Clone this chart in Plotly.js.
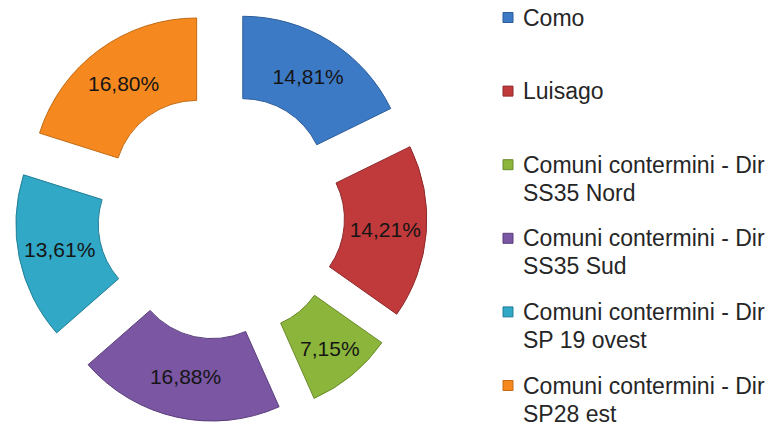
<!DOCTYPE html>
<html>
<head>
<meta charset="utf-8">
<script src="https://cdn.plot.ly/plotly-3.0.1.min.js"></script>
<style>html,body{margin:0;padding:0;background:#fff;}#chart{width:766px;height:427px;}</style>
</head>
<body>
<div id="chart"></div>
<script>
// Data
const categories = [
  'Como',
  'Luisago',
  'Comuni contermini - Dir SS35 Nord',
  'Comuni contermini - Dir SS35 Sud',
  'Comuni contermini - Dir SP 19 ovest',
  'Comuni contermini - Dir SP28 est'
];
const legendLines = [
  ['Como'],
  ['Luisago'],
  ['Comuni contermini - Dir', 'SS35 Nord'],
  ['Comuni contermini - Dir', 'SS35 Sud'],
  ['Comuni contermini - Dir', 'SP 19 ovest'],
  ['Comuni contermini - Dir', 'SP28 est']
];
const values = [14.81, 14.21, 7.15, 16.88, 13.61, 16.80];

// Styles
const colors = ['#3d7ac6', '#c0393b', '#8cb53c', '#7a56a3', '#31a8c6', '#f5891f'];
const edgeColors = ['#2c5d9a', '#8e2a2b', '#6a8a2c', '#5a3f7c', '#237f97', '#c26a14'];
const W = 766, H = 427;

const textLabels = values.map(v => v.toFixed(2).replace('.', ',') + '%');

const trace = {
  type: 'pie',
  values: values,
  labels: categories,
  text: textLabels,
  textinfo: 'text',
  textposition: 'inside',
  insidetextorientation: 'horizontal',
  hole: 0.5,
  pull: 0.25,
  sort: false,
  direction: 'clockwise',
  rotation: 0,
  marker: { colors: colors, line: { color: edgeColors, width: 1 } },
  insidetextfont: { family: 'Liberation Sans, Arial, sans-serif', size: 21, color: '#151515' },
  domain: { x: [0.0196, 0.5574], y: [0.0117, 0.9766] },
  showlegend: false,
  hoverinfo: 'label+text'
};

// Manual legend (matching the reference spacing)
const annotations = [];
const shapes = [];
const firstCenter = 17.5, step = 73.6, lineGap = 28;
legendLines.forEach((lines, i) => {
  const c = firstCenter + step * i;
  lines.forEach((ln, j) => {
    annotations.push({
      xref: 'paper', yref: 'paper',
      x: 521 / W, y: 1 - (c + j * lineGap) / H,
      xanchor: 'left', yanchor: 'middle', align: 'left',
      showarrow: false,
      text: ln,
      font: { family: 'Liberation Sans, Arial, sans-serif', size: 23, color: '#262626' }
    });
  });
  shapes.push({
    type: 'rect', xref: 'paper', yref: 'paper',
    x0: 503 / W, x1: 513 / W,
    y0: 1 - (c + 5) / H, y1: 1 - (c - 5) / H,
    fillcolor: colors[i],
    line: { color: edgeColors[i], width: 1 }
  });
});

const layout = {
  width: W, height: H,
  margin: { l: 0, r: 0, t: 0, b: 0 },
  paper_bgcolor: '#ffffff',
  plot_bgcolor: '#ffffff',
  showlegend: false,
  annotations: annotations,
  shapes: shapes
};

Plotly.newPlot('chart', [trace], layout, { displayModeBar: false, staticPlot: true });
</script>
</body>
</html>
